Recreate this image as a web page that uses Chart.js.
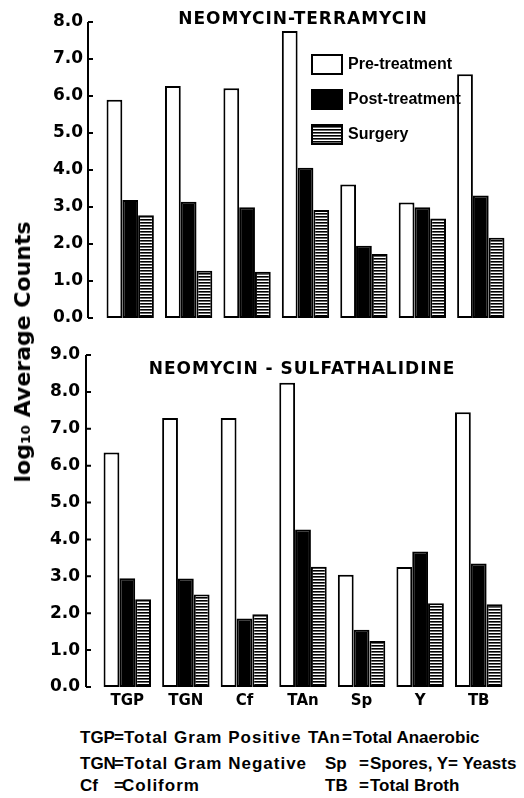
<!DOCTYPE html>
<html>
<head>
<meta charset="utf-8">
<script src="https://cdn.jsdelivr.net/npm/chart.js@4/dist/chart.umd.min.js"></script>
<style>
  body { margin: 0; background: #fff; width: 524px; height: 798px; position: relative; overflow: hidden;
         font-family: "DejaVu Sans", sans-serif; font-weight: bold; color: #000; }
  canvas { position: absolute; left: 0; }
  #topChart { top: 0; }
  #bottomChart { top: 330px; }
  .t { position: absolute; white-space: nowrap; line-height: 1; }
  .ttl { font-size: 17px; letter-spacing: 1px; transform: translate(-50%, -50%); }
  #ytitle { left: 23px; top: 352px; font-size: 22px; transform: translate(-50%, -50%) rotate(-90deg); }
  .note { font-family: "Liberation Sans", sans-serif; font-size: 17px; }
  .wide { letter-spacing: 1px; }
</style>
</head>
<body>
<canvas id="topChart" width="524" height="330"></canvas>
<canvas id="bottomChart" width="524" height="390"></canvas>

<div class="t ttl" style="left:303px; top:18px;">NEOMYCIN-TERRAMYCIN</div>
<div class="t ttl" style="left:302px; top:368px;">NEOMYCIN - SULFATHALIDINE</div>
<div class="t" id="ytitle">log₁₀ Average Counts</div>

<div class="t note" style="left:80px; top:729px;">TGP</div>
<div class="t note" style="left:114px; top:729px;">=</div>
<div class="t note wide" style="left:124px; top:729px;">Total Gram Positive</div>
<div class="t note" style="left:80px; top:755px;">TGN</div>
<div class="t note" style="left:114px; top:755px;">=</div>
<div class="t note wide" style="left:124px; top:755px;">Total Gram Negative</div>
<div class="t note" style="left:80px; top:777px;">Cf</div>
<div class="t note" style="left:114px; top:777px;">=</div>
<div class="t note wide" style="left:122px; top:777px;">Coliform</div>
<div class="t note" style="left:308px; top:729px;">TAn</div>
<div class="t note" style="left:342px; top:729px;">=</div>
<div class="t note" style="left:353px; top:729px;">Total Anaerobic</div>
<div class="t note" style="left:325px; top:755px;">Sp</div>
<div class="t note" style="left:359px; top:755px;">=</div>
<div class="t note" style="left:370px; top:755px;">Spores, Y= Yeasts</div>
<div class="t note" style="left:325px; top:777px;">TB</div>
<div class="t note" style="left:359px; top:777px;">=</div>
<div class="t note" style="left:370px; top:777px;">Total Broth</div>

<script>
var categories = ['TGP', 'TGN', 'Cf', 'TAn', 'Sp', 'Y', 'TB'];

// neomycin - terramycin
var terraPre = [5.9, 6.27, 6.21, 7.76, 3.61, 3.12, 6.59];
var terraPost = [3.19, 3.14, 2.99, 4.06, 1.95, 2.99, 3.31];
var terraSurgery = [2.78, 1.28, 1.25, 2.92, 1.73, 2.69, 2.17];

// neomycin - sulfathalidine
var sulfaPre = [6.36, 7.29, 7.29, 8.25, 3.04, 3.25, 7.45];
var sulfaPost = [2.95, 2.94, 1.86, 4.27, 1.55, 3.67, 3.35];
var sulfaSurgery = [2.38, 2.51, 1.97, 3.26, 1.25, 2.27, 2.24];

var seriesNames = ['Pre-treatment', 'Post-treatment', 'Surgery'];

function stripes() {
    var c = document.createElement('canvas');
    c.width = 4; c.height = 3;
    var g = c.getContext('2d');
    g.fillStyle = '#fff'; g.fillRect(0, 0, 4, 3);
    g.fillStyle = '#000'; g.fillRect(0, 0, 4, 1);
    g.fillStyle = '#666'; g.fillRect(0, 1, 4, 1);
    return g.createPattern(c, 'repeat');
}
var hatch = stripes();
var fills = ['#fff', '#000', hatch];

function makeSets(pre, post, surg) {
    return [pre, post, surg].map(function (d, i) {
        return {
            label: seriesNames[i],
            data: d,
            backgroundColor: fills[i],
            borderColor: '#000',
            borderWidth: 2,
            borderSkipped: false,
            categoryPercentage: 0.81,
            barPercentage: 1.0
        };
    });
}

// y axis line drawn a bit left of the plot area, ticks pointing inwards
var axisLine = {
    id: 'axisLine',
    afterDraw: function (chart, args, opts) {
        var ctx = chart.ctx, y = chart.scales.y;
        var x = chart.chartArea.left - opts.gap;
        ctx.save();
        ctx.strokeStyle = '#000';
        ctx.lineWidth = 2;
        ctx.beginPath();
        ctx.moveTo(x, y.getPixelForValue(y.max));
        ctx.lineTo(x, y.getPixelForValue(0));
        y.ticks.forEach(function (t) {
            var py = y.getPixelForValue(t.value);
            ctx.moveTo(x, py);
            ctx.lineTo(x + 5, py);
        });
        ctx.stroke();
        ctx.restore();
    }
};

var boxLegend = {
    id: 'boxLegend',
    afterDraw: function (chart, args, opts) {
        if (!opts.show) return;
        var ctx = chart.ctx;
        ctx.save();
        ctx.font = 'bold 16px "Liberation Sans"';
        ctx.textBaseline = 'middle';
        chart.data.datasets.forEach(function (ds, i) {
            var cy = opts.y + i * 35;
            ctx.fillStyle = ds.backgroundColor;
            ctx.fillRect(opts.x, cy - 9, 30, 19);
            ctx.strokeStyle = '#000';
            ctx.lineWidth = 2;
            ctx.strokeRect(opts.x, cy - 9, 30, 19);
            ctx.fillStyle = '#000';
            ctx.fillText(ds.label, opts.x + 36, cy + 1);
        });
        ctx.restore();
    }
};

// plotLeft: where the bars' category band starts
function makeChart(id, sets, yMax, pad, plotLeft, showX, gap, legend) {
    return new Chart(document.getElementById(id), {
        type: 'bar',
        data: { labels: categories, datasets: sets },
        options: {
            responsive: false,
            animation: false,
            layout: { padding: pad },
            plugins: {
                legend: { display: false },
                tooltip: { enabled: false },
                axisLine: { gap: gap },
                boxLegend: legend
            },
            scales: {
                x: {
                    display: showX,
                    grid: { display: false, drawTicks: false },
                    border: { display: false },
                    ticks: { display: showX, color: '#000', padding: 5, font: { family: 'DejaVu Sans', size: 15, weight: 'bold' } }
                },
                y: {
                    min: 0,
                    max: yMax,
                    afterFit: function (s) { s.width = plotLeft - pad.left; },
                    grid: { display: false, drawTicks: false },
                    border: { display: false },
                    ticks: {
                        stepSize: 1,
                        color: '#000',
                        padding: 0,
                        crossAlign: 'far',
                        font: { family: 'DejaVu Sans', size: 17, weight: 'bold' },
                        callback: function (v) { return v.toFixed(1); }
                    }
                }
            }
        },
        plugins: [axisLine, boxLegend]
    });
}

makeChart('topChart', makeSets(terraPre, terraPost, terraSurgery), 8,
    { top: 22, right: 14, bottom: 12, left: 53 }, 101, false, 13,
    { show: true, x: 312, y: 64 });
makeChart('bottomChart', makeSets(sulfaPre, sulfaPost, sulfaSurgery), 9,
    { top: 25, right: 16, bottom: 5, left: 50 }, 98, true, 12,
    { show: false });
</script>
</body>
</html>
